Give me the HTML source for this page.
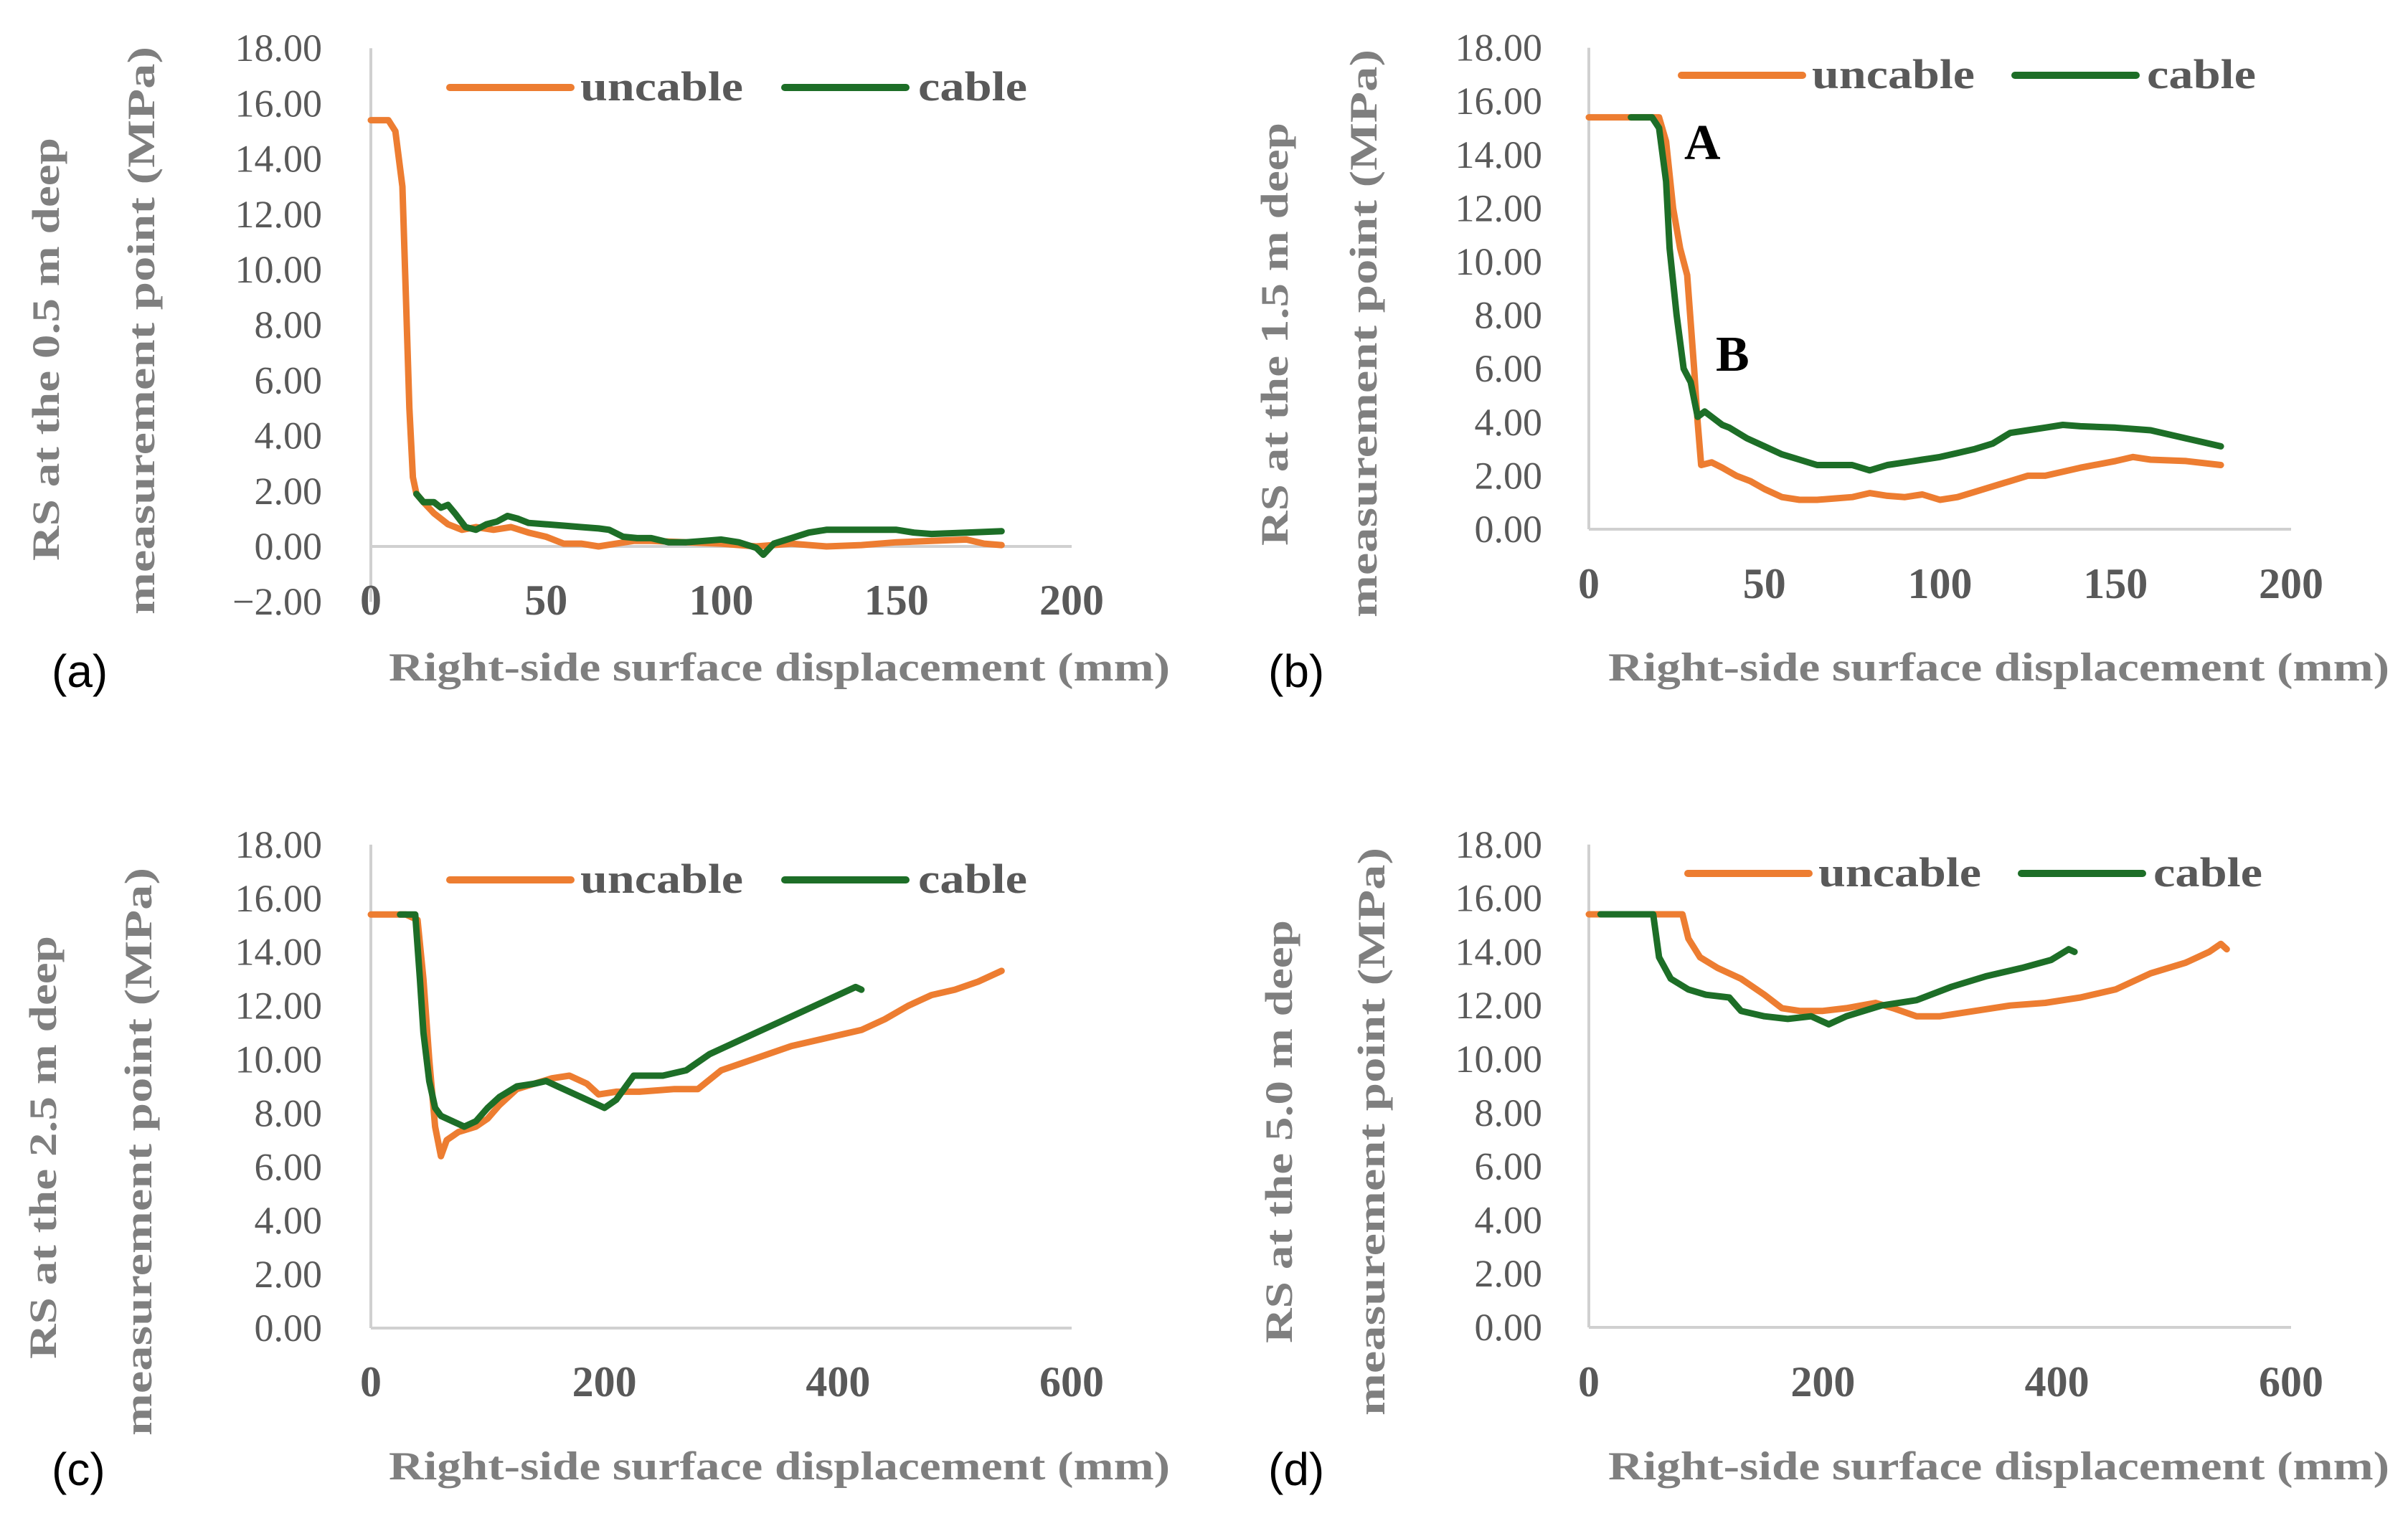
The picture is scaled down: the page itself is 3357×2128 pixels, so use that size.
<!DOCTYPE html>
<html><head><meta charset="utf-8">
<style>
html,body{margin:0;padding:0;background:#fff;}
svg{display:block;}
.tick{font-family:"Liberation Serif",serif;font-size:54px;fill:#595959;}
.xt{font-family:"Liberation Serif",serif;font-size:60px;font-weight:bold;fill:#595959;}
.leg{font-family:"Liberation Serif",serif;font-size:58px;font-weight:bold;fill:#595959;}
.ytitle{font-family:"Liberation Serif",serif;font-size:54px;font-weight:bold;fill:#7f7f7f;}
.xtitle{font-family:"Liberation Serif",serif;font-size:56px;font-weight:bold;fill:#7f7f7f;}
.plab{font-family:"Liberation Sans",sans-serif;font-size:64px;fill:#000;}
.ann{font-family:"Liberation Serif",serif;font-size:70px;font-weight:bold;fill:#000;}
</style></head>
<body>
<svg id="fig" width="3357" height="2128" viewBox="0 0 3357 2128" xmlns="http://www.w3.org/2000/svg"></svg>
<script>
// ---- data (a) ----
const aUncableX=[0,5,7,9,10,11,12,13,15,18,22,26,30,35,40,45,50,55,60,65,70,75,80,90,100,110,120,130,140,150,160,170,175,180];
const aUncableY=[15.4,15.4,15.0,13,9,5,2.5,1.9,1.6,1.2,0.8,0.6,0.7,0.6,0.7,0.5,0.35,0.1,0.1,0.0,0.1,0.2,0.2,0.15,0.1,0.0,0.1,0.0,0.05,0.15,0.2,0.25,0.1,0.05];
const aCableX=[13,15,18,20,22,24,27,30,33,36,39,42,45,50,55,60,65,68,72,76,80,85,90,95,100,105,110,112,115,120,125,130,140,150,155,160,170,180];
const aCableY=[1.9,1.6,1.6,1.4,1.5,1.2,0.7,0.6,0.8,0.9,1.1,1.0,0.85,0.8,0.75,0.7,0.65,0.6,0.35,0.3,0.3,0.15,0.15,0.2,0.25,0.15,-0.05,-0.3,0.1,0.3,0.5,0.6,0.6,0.6,0.5,0.45,0.5,0.55];
// ---- data (b) ----
const bUncableX=[0,20,22,24,26,28,30,31,32,35,38,42,46,50,55,60,65,70,75,80,85,90,95,100,105,110,115,120,125,130,140,150,155,160,170,180];
const bUncableY=[15.4,15.4,14.5,12,10.5,9.5,6,4,2.4,2.5,2.3,2.0,1.8,1.5,1.2,1.1,1.1,1.15,1.2,1.35,1.25,1.2,1.3,1.1,1.2,1.4,1.6,1.8,2.0,2.0,2.3,2.55,2.7,2.6,2.55,2.4];
const bCableX=[12,18,20,22,23,25,27,29,31,33,35,38,40,45,50,55,60,65,70,75,80,85,90,95,100,105,110,115,120,125,130,135,140,150,160,170,175,180];
const bCableY=[15.4,15.4,15.0,13,10.5,8,6,5.5,4.2,4.4,4.2,3.9,3.8,3.4,3.1,2.8,2.6,2.4,2.4,2.4,2.2,2.4,2.5,2.6,2.7,2.85,3.0,3.2,3.6,3.7,3.8,3.9,3.85,3.8,3.7,3.4,3.25,3.1];
// ---- data (c) ----
const cUncableX=[0,30,40,45,50,55,60,65,75,90,100,110,125,140,155,170,185,195,210,230,260,280,300,320,340,360,380,400,420,440,460,480,500,520,540];
const cUncableY=[15.4,15.4,15.2,13,10,7.5,6.4,7.0,7.3,7.5,7.8,8.3,8.9,9.1,9.3,9.4,9.1,8.7,8.8,8.8,8.9,8.9,9.6,9.9,10.2,10.5,10.7,10.9,11.1,11.5,12.0,12.4,12.6,12.9,13.3];
const cCableX=[25,38,42,45,50,55,60,70,80,90,100,110,125,140,150,160,180,200,210,225,250,270,290,310,330,350,370,390,405,415,420];
const cCableY=[15.4,15.4,13,11,9.2,8.2,7.9,7.7,7.5,7.7,8.2,8.6,9.0,9.1,9.2,9.0,8.6,8.2,8.5,9.4,9.4,9.6,10.2,10.6,11.0,11.4,11.8,12.2,12.5,12.7,12.6];
// ---- data (d) ----
const dUncableX=[0,80,85,95,110,130,150,165,180,200,220,245,260,280,300,330,360,390,420,450,480,510,530,540,545];
const dUncableY=[15.4,15.4,14.5,13.8,13.4,13.0,12.4,11.9,11.8,11.8,11.9,12.1,11.9,11.6,11.6,11.8,12.0,12.1,12.3,12.6,13.2,13.6,14.0,14.3,14.1];
const dCableX=[10,55,60,70,85,100,120,130,150,170,190,205,220,250,280,310,340,370,395,410,415];
const dCableY=[15.4,15.4,13.8,13.0,12.6,12.4,12.3,11.8,11.6,11.5,11.6,11.3,11.6,12.0,12.2,12.7,13.1,13.4,13.7,14.1,14.0];
// tick labels
const yTicksA=["18.00","16.00","14.00","12.00","10.00","8.00","6.00","4.00","2.00","0.00","\u22122.00"];
const yTicksB=["18.00","16.00","14.00","12.00","10.00","8.00","6.00","4.00","2.00","0.00"];
const xTicks200=["0","50","100","150","200"];
const xTicks600=["0","200","400","600"];

const NS="http://www.w3.org/2000/svg";
const svg=document.getElementById('fig');
function mk(tag,attrs,parent,text){const e=document.createElementNS(NS,tag);for(const k in attrs)e.setAttribute(k,attrs[k]);if(text!==undefined)e.textContent=text;(parent||svg).appendChild(e);return e;}

function panel(p){
  const g=mk('g',{});
  
  
  const ymin=p.ymin;
  const sy=v=>p.y0-(v/2)*p.step;
  const sx=v=>p.x0+(v/p.xmax)*(p.x1-p.x0);
  const ya=mk('line',{x1:p.x0,y1:sy(18),x2:p.x0,y2:sy(ymin),stroke:'#d0d0d0','stroke-width':4},g);
  
  
  const xa=mk('line',{x1:p.x0,y1:p.y0,x2:p.x1,y2:p.y0,stroke:'#d0d0d0','stroke-width':4},g);
  
  
  p.yticks.forEach((t,i)=>{
    const v=18-2*i;
    const e=mk('text',{x:p.tickRight,y:sy(v)+18,'text-anchor':'end',class:'tick'},g,t);
    
    
  });
  p.xticks.forEach(t=>{
    const e=mk('text',{x:sx(+t),y:p.xtickY+20,'text-anchor':'middle',class:'xt'},g,t);
    
    
  });
  const series=[[p.ux,p.uy,'#ED7D31','uncable-line'],[p.cx,p.cy,'#1D6E27','cable-line']];
  series.forEach(s=>{
    const d=s[0].map((x,i)=>(i?'L':'M')+sx(x).toFixed(1)+','+sy(s[1][i]).toFixed(1)).join(' ');
    const e=mk('path',{d:d,fill:'none',stroke:s[2],'stroke-width':9,'stroke-linejoin':'round','stroke-linecap':'round'},g);
    
    
  });
  const L=p.leg;
  const l1=mk('line',{x1:L[0],y1:L[4],x2:L[0]+169,y2:L[4],stroke:'#ED7D31','stroke-width':10,'stroke-linecap':'round'},g);
  
  
  const t1=mk('text',{x:L[1],y:L[4]+18,class:'leg',textLength:227,lengthAdjust:'spacingAndGlyphs'},g,'uncable');
  
  
  const l2=mk('line',{x1:L[2],y1:L[4],x2:L[2]+169,y2:L[4],stroke:'#1D6E27','stroke-width':10,'stroke-linecap':'round'},g);
  
  
  const t2=mk('text',{x:L[3],y:L[4]+18,class:'leg',textLength:152,lengthAdjust:'spacingAndGlyphs'},g,'cable');
  
  
  const yt1=mk('text',{x:0,y:0,class:'ytitle','text-anchor':'middle',textLength:590,lengthAdjust:'spacingAndGlyphs',transform:`translate(${p.yt[0]+18},${p.yt[1]}) rotate(-90)`},g,p.ytitle);
  
  
  const yt2=mk('text',{x:0,y:0,class:'ytitle','text-anchor':'middle',textLength:792,lengthAdjust:'spacingAndGlyphs',transform:`translate(${p.yt[2]+18},${p.yt[3]}) rotate(-90)`},g,'measurement point (MPa)');
  
  
  const xt=mk('text',{x:p.xt[0],y:p.xt[1]+18,class:'xtitle',textLength:1089,lengthAdjust:'spacingAndGlyphs'},g,'Right-side surface displacement (mm)');
  
  
  const pl=mk('text',{x:p.pl[0],y:p.pl[1]+22,class:'plab'},g,'('+p.id+')');
  
  
  return {g,sx,sy};
}

panel({id:'a',x0:517,x1:1494,xmax:200,y0:762,step:77.2,ymin:-2,yticks:yTicksA,xticks:xTicks200,tickRight:449,xtickY:837,
  ux:aUncableX,uy:aUncableY,cx:aCableX,cy:aCableY,leg:[627,809,1094,1280,122],
  ytitle:'RS at the 0.5 m deep',yt:[64,487,197,461],xt:[542,931],pl:[72,936]});
const pb=panel({id:'b',x0:2215,x1:3194,xmax:200,y0:738,step:74.6,ymin:0,yticks:yTicksB,xticks:xTicks200,tickRight:2150,xtickY:814,
  ux:bUncableX,uy:bUncableY,cx:bCableX,cy:bCableY,leg:[2344,2526,2809,2993,105],
  ytitle:'RS at the 1.5 m deep',yt:[1777,466,1901,465],xt:[2242,931],pl:[1768,936]});
panel({id:'c',x0:517,x1:1494,xmax:600,y0:1852,step:74.9,ymin:0,yticks:yTicksB,xticks:xTicks600,tickRight:449,xtickY:1927,
  ux:cUncableX,uy:cUncableY,cx:cCableX,cy:cCableY,leg:[627,809,1094,1280,1227],
  ytitle:'RS at the 2.5 m deep',yt:[60,1600,193,1606],xt:[542,2045],pl:[72,2049]});
panel({id:'d',x0:2215,x1:3194,xmax:600,y0:1851,step:74.8,ymin:0,yticks:yTicksB,xticks:xTicks600,tickRight:2150,xtickY:1927,
  ux:dUncableX,uy:dUncableY,cx:dCableX,cy:dCableY,leg:[2353,2535,2818,3002,1218],
  ytitle:'RS at the 5.0 m deep',yt:[1783,1578,1912,1578],xt:[2242,2045],pl:[1768,2049]});

const annA=mk('text',{x:2348,y:222,class:'ann'},pb.g,'A');


const annB=mk('text',{x:2392,y:517,class:'ann'},pb.g,'B');


</script>
</body></html>
